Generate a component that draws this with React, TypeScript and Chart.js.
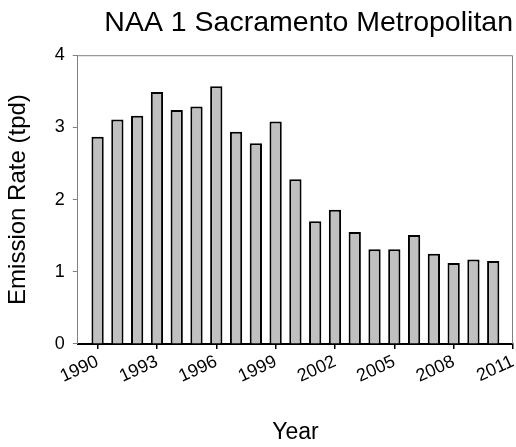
import React, { useEffect, useRef } from "react";
import { Chart, registerables } from "chart.js";

Chart.register(...registerables);

const chartTitle = "NAA 1 Sacramento Metropolitan";
const xAxisTitle = "Year";
const yAxisTitle = "Emission Rate (tpd)";

const years = [
  1990, 1991, 1992, 1993, 1994, 1995, 1996, 1997, 1998, 1999, 2000,
  2001, 2002, 2003, 2004, 2005, 2006, 2007, 2008, 2009, 2010,
];
const emissions = [
  2.87, 3.11, 3.16, 3.49, 3.24, 3.29, 3.57, 2.94, 2.78, 3.08, 2.28,
  1.7, 1.86, 1.55, 1.31, 1.31, 1.51, 1.25, 1.12, 1.17, 1.15,
];
const xTickLabels = [1990, 1993, 1996, 1999, 2002, 2005, 2008, 2011];
const xMin = 1989;
const xMax = 2011;
const yMin = 0;
const yMax = 4;
const yStep = 1;

const FONT = "'Liberation Sans', Arial, sans-serif";

const boxPlugin = {
  id: "plotBox",
  afterDraw(chart: any) {
    const { ctx, chartArea } = chart;
    ctx.save();
    ctx.strokeStyle = "#808080";
    ctx.lineWidth = 1;
    ctx.beginPath();
    ctx.moveTo(chartArea.left, chartArea.top + 0.5);
    ctx.lineTo(chartArea.right - 0.5, chartArea.top + 0.5);
    ctx.lineTo(chartArea.right - 0.5, chartArea.bottom);
    ctx.stroke();
    ctx.restore();
  },
};

export default function App() {
  const canvasRef = useRef<HTMLCanvasElement | null>(null);

  useEffect(() => {
    if (!canvasRef.current) return;
    const chart = new Chart(canvasRef.current, {
      type: "bar",
      data: {
        datasets: [
          {
            data: years.map((y, i) => ({ x: y, y: emissions[i] })),
            backgroundColor: "#c0c0c0",
            borderColor: "#000000",
            borderWidth: 2,
            categoryPercentage: 1,
            barPercentage: 0.62,
          } as any,
        ],
      },
      options: {
        responsive: false,
        animation: false,
        layout: { padding: { left: 0, right: 3, top: 0, bottom: 0 } },
        plugins: {
          legend: { display: false },
          tooltip: { enabled: false },
          title: {
            display: true,
            text: chartTitle,
            color: "#000",
            fullSize: false,
            align: "end",
            font: { family: FONT, size: 28.5, weight: "normal" },
            padding: { top: 6, bottom: 15 },
          },
        },
        scales: {
          x: {
            type: "linear",
            min: xMin,
            max: xMax,
            offset: false,
            afterBuildTicks: (scale: any) => {
              scale.ticks = xTickLabels.map((v) => ({ value: v }));
            },
            afterFit: (scale: any) => {
              scale.paddingRight = 0;
            },
            ticks: {
              color: "#000",
              font: { family: FONT, size: 18 },
              minRotation: 25,
              maxRotation: 25,
              padding: 2,
              autoSkip: false,
              callback: (v: any) => String(v),
            },
            grid: {
              display: true,
              offset: false,
              drawOnChartArea: false,
              drawTicks: true,
              tickLength: 5,
              color: "#000",
              lineWidth: 1.5,
            },
            border: { display: true, color: "#000", width: 2 },
            title: {
              display: true,
              text: xAxisTitle,
              color: "#000",
              font: { family: FONT, size: 23 },
              padding: { top: 29, bottom: 1 },
            },
          },
          y: {
            min: yMin,
            max: yMax,
            ticks: {
              stepSize: yStep,
              color: "#000",
              font: { family: FONT, size: 18 },
              padding: 8,
            },
            grid: {
              display: true,
              drawOnChartArea: false,
              drawTicks: true,
              tickLength: 5,
              color: "#808080",
            },
            border: { display: true, color: "#808080", width: 1 },
            title: {
              display: true,
              text: yAxisTitle,
              color: "#000",
              font: { family: FONT, size: 24 },
              padding: { top: 4, bottom: 14 },
            },
          },
        },
      } as any,
      plugins: [boxPlugin],
    });
    return () => chart.destroy();
  }, []);

  return (
    <canvas
      ref={canvasRef}
      width={516}
      height={447}
      style={{ position: "fixed", left: 0, top: 0, display: "block", background: "#fff" }}
    />
  );
}
